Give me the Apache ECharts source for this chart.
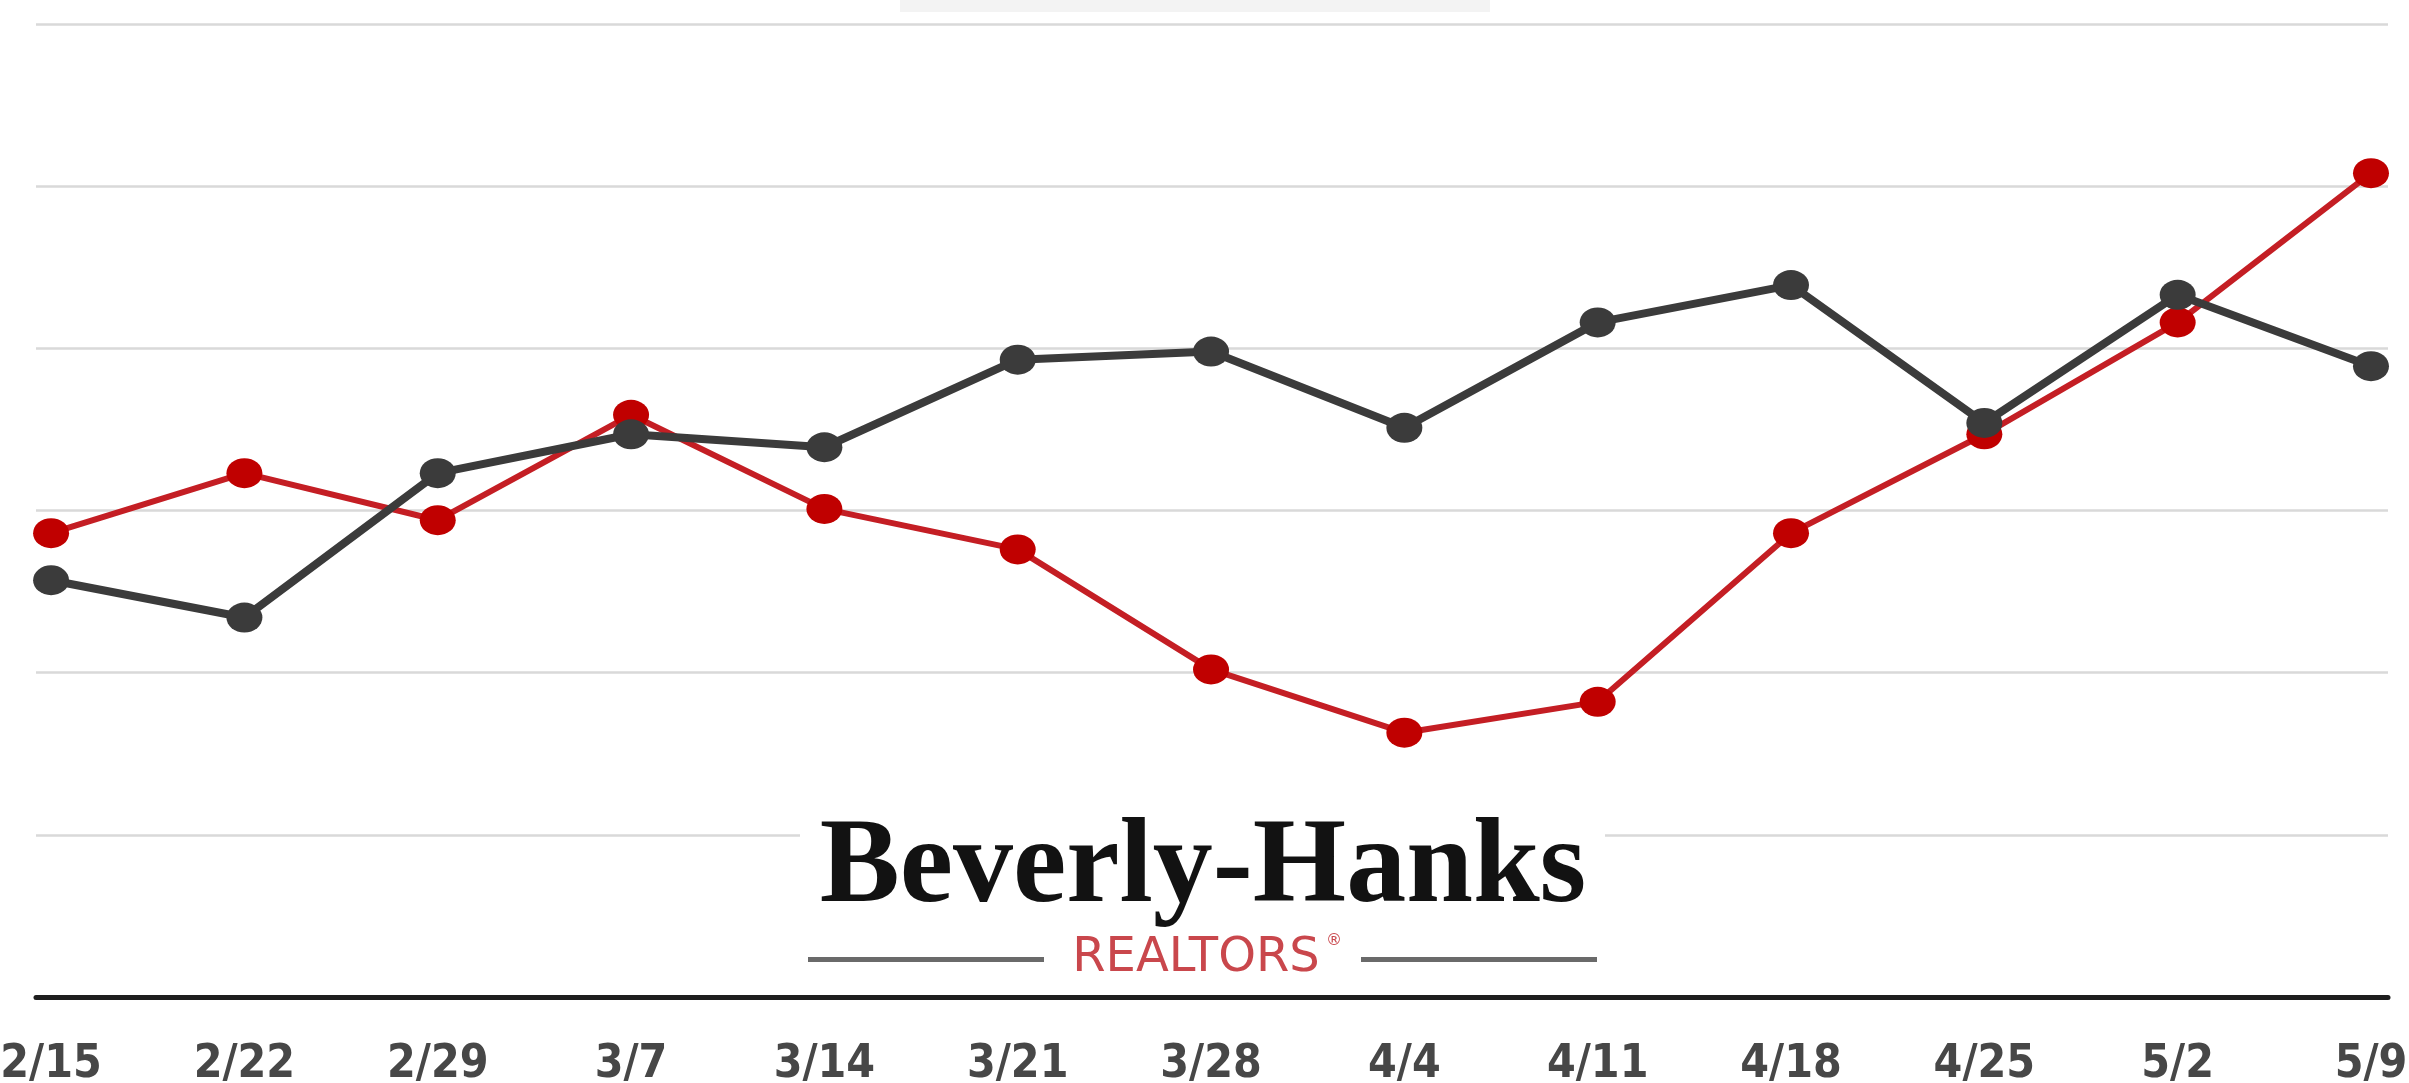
<!DOCTYPE html>
<html>
<head>
<meta charset="utf-8">
<script src="https://cdn.jsdelivr.net/npm/echarts@6/dist/echarts.min.js"></script>
<style>
html,body{margin:0;padding:0;background:#fff;}
#chart{width:2409px;height:1083px;}
</style>
</head>
<body>
<div id="chart"></div>
<script>
const categories = ['2/15','2/22','2/29','3/7','3/14','3/21','3/28','4/4','4/11','4/18','4/25','5/2','5/9'];
const blackValues = [25.7, 23.4, 32.3, 34.7, 33.9, 39.3, 39.8, 35.1, 41.6, 43.9, 35.4, 43.3, 38.9];
const redValues = [28.6, 32.3, 29.4, 35.9, 30.1, 27.6, 20.2, 16.3, 18.2, 28.6, 34.7, 41.6, 50.8];
const yMin = 0, yMax = 60, yStep = 10;
const logoName = 'Beverly-Hanks';
const logoSub = 'REALTORS';

const chart = echarts.init(document.getElementById('chart'), null, {renderer: 'canvas'});
const toPairs = vals => vals.map((v, i) => [i, v]);

chart.setOption({
  animation: false,
  backgroundColor: '#ffffff',
  grid: {left: 36, right: 21, top: 24, bottom: 86, containLabel: false, outerBoundsMode: 'none'},
  xAxis: {
    type: 'value',
    min: -0.078,
    max: categories.length - 1 + 0.088,
    splitLine: {show: false},
    axisTick: {show: false},
    axisLine: {show: true, lineStyle: {color: '#1e1e1e', width: 5}},
    axisLabel: {
      customValues: categories.map((c, i) => i),
      formatter: v => categories[Math.round(v)],
      fontFamily: 'DejaVu Sans Condensed',
      fontWeight: 'bold',
      fontSize: 46,
      color: '#474747',
      margin: 45
    }
  },
  yAxis: {
    type: 'value',
    min: yMin, max: yMax, interval: yStep,
    axisLine: {show: false},
    axisTick: {show: false},
    axisLabel: {show: false},
    splitLine: {show: true, lineStyle: {color: '#d9d9d9', width: 2.5}}
  },
  series: [
    {
      type: 'line',
      data: toPairs(redValues),
      symbol: 'circle',
      symbolSize: [36, 30],
      itemStyle: {color: '#c00000'},
      lineStyle: {color: '#c41e24', width: 6},
      z: 2
    },
    {
      type: 'line',
      data: toPairs(blackValues),
      symbol: 'circle',
      symbolSize: [36, 30],
      itemStyle: {color: '#3b3b3b'},
      lineStyle: {color: '#3b3b3b', width: 8},
      z: 3
    }
  ],
  graphic: [
    {type: 'rect', z: 1, shape: {x: 900, y: 0, width: 590, height: 12}, style: {fill: '#f3f3f3'}},
    {type: 'rect', z: 1, shape: {x: 800, y: 805, width: 805, height: 183}, style: {fill: '#ffffff'}},
    {type: 'text', z: 2, x: 1203, y: 870, style: {text: logoName, fontFamily: 'Liberation Serif', fontWeight: 'bold', fontSize: 120, fill: '#121212', align: 'center', verticalAlign: 'middle'}},
    {type: 'rect', z: 2, shape: {x: 808, y: 957, width: 236, height: 5}, style: {fill: '#6a6a6a'}},
    {type: 'rect', z: 2, shape: {x: 1361, y: 957, width: 236, height: 5}, style: {fill: '#6a6a6a'}},
    {type: 'text', z: 2, x: 1196, y: 959, style: {text: logoSub, fontFamily: 'DejaVu Sans', fontSize: 48, fill: '#c9474c', align: 'center', verticalAlign: 'middle'}},
    {type: 'text', z: 2, x: 1326, y: 941, style: {text: '\u00AE', fontFamily: 'DejaVu Sans', fontSize: 16, fill: '#c9474c', align: 'left', verticalAlign: 'middle'}}
  ]
});
</script>
</body>
</html>
